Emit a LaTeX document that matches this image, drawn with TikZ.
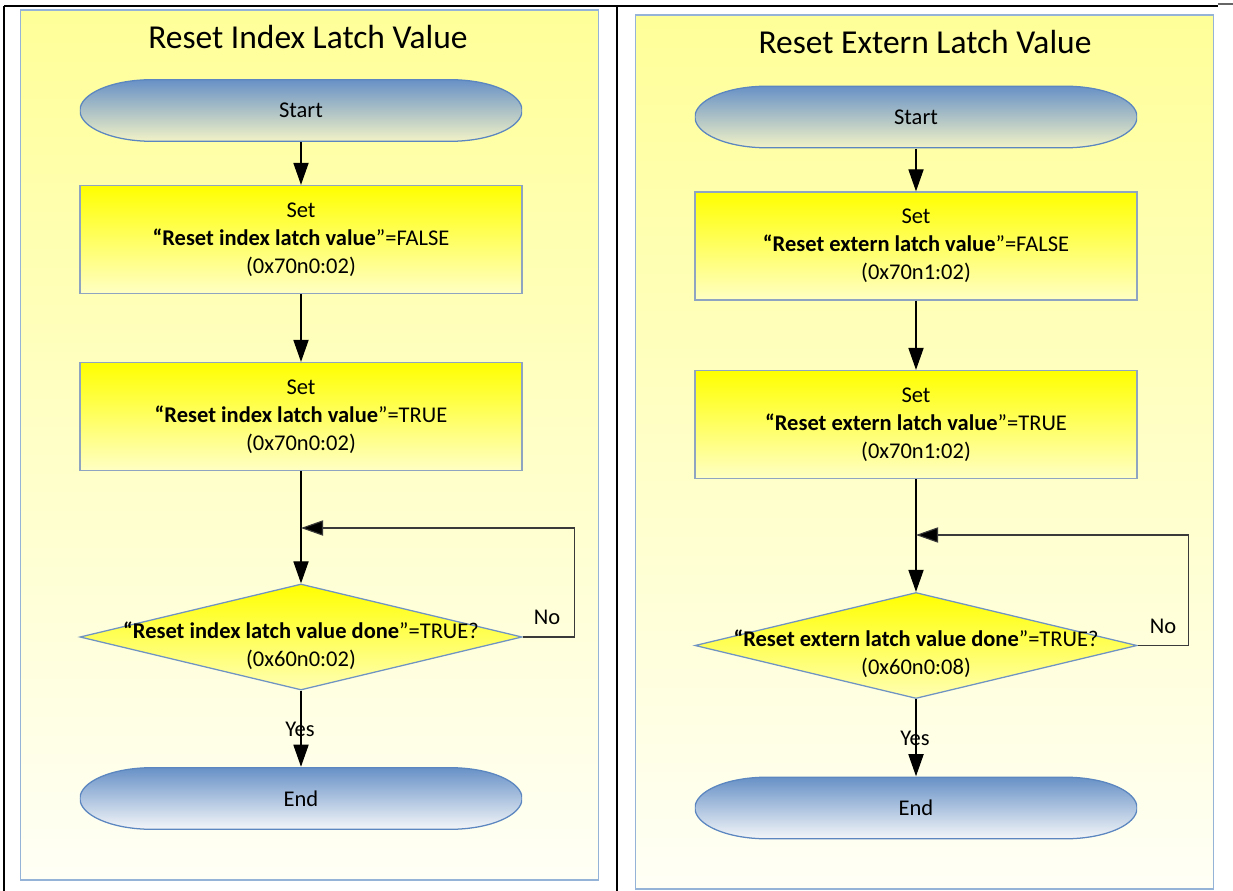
\documentclass[tikz,border=0pt]{standalone}
\usepackage{fontspec}
\setmainfont{Carlito}
\usepackage{xcolor}
\definecolor{panelborder}{HTML}{95B3D7}
\definecolor{paneltop}{HTML}{FFFF99}
\definecolor{panelbot}{HTML}{FFFFF6}
\definecolor{boxborder}{HTML}{8EA4C0}
\definecolor{boxtop}{HTML}{FFFF00}
\definecolor{boxbot}{HTML}{FFFFC4}
\definecolor{termborder}{HTML}{5B86BF}
\definecolor{termtop}{HTML}{6690C6}
\definecolor{startbot}{HTML}{F3F3C6}
\definecolor{endbot}{HTML}{F5F7F9}
\definecolor{decborder}{HTML}{6F93C2}
\definecolor{decbot}{HTML}{FFFFB4}
\definecolor{loopgray}{HTML}{3A3A3A}
\usepackage{tikz}
\usetikzlibrary{
  arrows.meta,
  shapes.geometric,
  calc
}

\begin{document}
\begin{tikzpicture}[
  x=0.025cm, y=-0.025cm,
  panel/.style={rectangle, draw=panelborder, line width=1.2pt, top color=paneltop, bottom color=panelbot, inner sep=0pt, minimum width=14.45cm},
  title/.style={font=\fontsize{23.8}{28}\selectfont},
  setbox/.style={rectangle, draw=boxborder, line width=0.9pt, top color=boxtop, bottom color=boxbot, minimum width=11.05cm, minimum height=2.7cm, align=center, font=\fontsize{16}{19.9}\selectfont},
  term/.style={rectangle, minimum width=11.05cm, minimum height=1.575cm, font=\fontsize{16}{19.9}\selectfont,
    path picture={
      \shade[top color=termtop, bottom color=#1, draw=termborder, line width=0.9pt]
        ([xshift=1.8cm, yshift=-0.5pt]path picture bounding box.north west)
        -- ([xshift=-1.8cm, yshift=-0.5pt]path picture bounding box.north east)
        arc[start angle=90, end angle=-90, x radius=1.8cm, y radius=0.7875cm-0.5pt]
        -- ([xshift=1.8cm, yshift=0.5pt]path picture bounding box.south west)
        arc[start angle=270, end angle=90, x radius=1.8cm, y radius=0.7875cm-0.5pt]
        -- cycle;
    }},
  decision/.style={diamond, draw=decborder, line width=0.9pt, top color=boxtop, bottom color=decbot, inner sep=0pt, minimum width=11.05cm, minimum height=2.65cm},
  txt/.style={align=center, font=\fontsize{16}{19.9}\selectfont},
  arr/.style={-{Triangle[length=0.55cm, width=0.38cm]}, line width=0.8pt},
  looparr/.style={arr, draw=loopgray, -{Triangle[length=0.55cm, width=0.38cm, fill=black]}},
  tableline/.style={line width=0.8pt},
]
\useasboundingbox (0,0) rectangle (1233,891);

% Table lines
\draw[tableline] (4,6) -- (1218,6);
\draw[tableline, black!60] (1218,4) -- (1233,4);
\draw[tableline] (4,6) -- (4,891);
\draw[tableline] (617,6) -- (617,891);

% Panels
\node[panel, minimum height=21.75cm] (panelL) at (309.5,445) {};
\node[panel, minimum height=21.85cm] (panelR) at (924.5,452) {};

% Left flow (index)
\node[title] (titleL) at (308,37) {Reset Index Latch Value};
\node[term=startbot] (startL) at (301,110.5) {Start};
\node[setbox] (setL1) at (301,239.5) {Set\\\textbf{“Reset index latch value}”=FALSE\\(0x70n0:02)};
\node[setbox] (setL2) at (301,416.5) {Set\\\textbf{“Reset index latch value}”=TRUE\\(0x70n0:02)};
\node[decision] (decL) at (301,637) {};
\node[txt] (decLtxt) at (301,646) {\textbf{“Reset index latch value done}”=TRUE?\\(0x60n0:02)};
\coordinate (mergeL) at (301,528);
\node[term=endbot] (endL) at (301,798.5) {End};
\node[txt] (noL) at (547,617) {No};
\node[txt] (yesL) at (300,729) {Yes};

% Right flow (extern)
\node[title] (titleR) at (925,42) {Reset Extern Latch Value};
\node[term=startbot] (startR) at (916,117) {Start};
\node[setbox] (setR1) at (916,246) {Set\\\textbf{“Reset extern latch value}”=FALSE\\(0x70n1:02)};
\node[setbox] (setR2) at (916,424.5) {Set\\\textbf{“Reset extern latch value}”=TRUE\\(0x70n1:02)};
\node[decision] (decR) at (916,645.5) {};
\node[txt] (decRtxt) at (916,654) {\textbf{“Reset extern latch value done}”=TRUE?\\(0x60n0:08)};
\coordinate (mergeR) at (916,535);
\node[term=endbot] (endR) at (916,808) {End};
\node[txt] (noR) at (1163,626) {No};
\node[txt] (yesR) at (915,738) {Yes};

% Arrows left
\draw[arr] (startL) -- (setL1);
\draw[arr] (setL1) -- (setL2);
\draw[arr] (setL2) -- (decL.north);
\draw[looparr] (decL.east) -- ++(52,0) |- (mergeL);
\draw[arr] (decL.south) -- (endL);

% Arrows right
\draw[arr] (startR) -- (setR1);
\draw[arr] (setR1) -- (setR2);
\draw[arr] (setR2) -- (decR.north);
\draw[looparr] (decR.east) -- ++(51,0) |- (mergeR);
\draw[arr] (decR.south) -- (endR);

\end{tikzpicture}
\end{document}
